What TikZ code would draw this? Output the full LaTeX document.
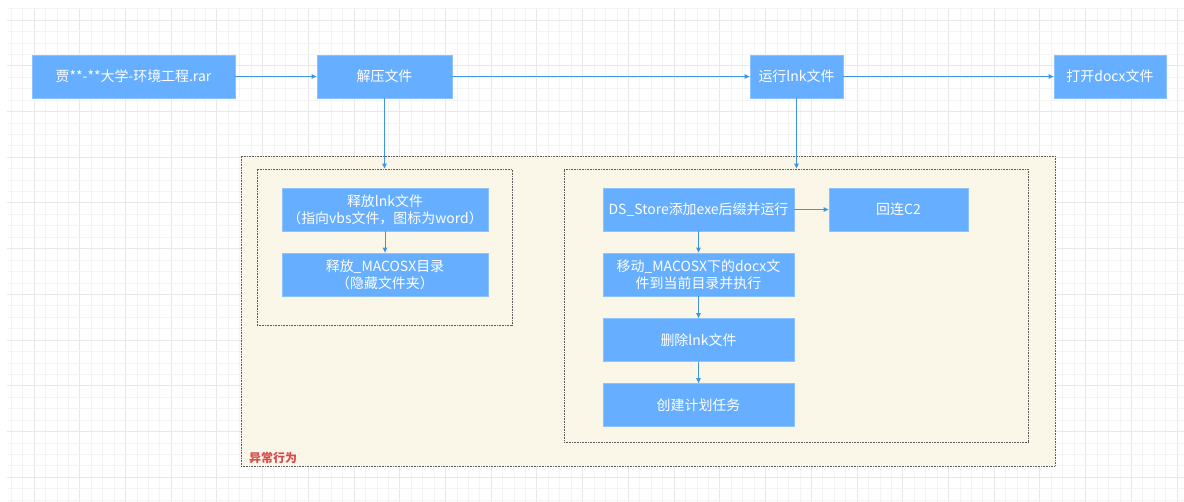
\documentclass[tikz,border=0pt]{standalone}
\usepackage{fontspec}
\setmainfont{Noto Sans CJK SC}
\usetikzlibrary{arrows.meta}
\definecolor{boxblue}{RGB}{102,174,255}
\definecolor{boxedge}{RGB}{140,195,255}
\definecolor{arrowblue}{RGB}{62,148,230}
\definecolor{cream}{RGB}{250,246,232}
\definecolor{dotgray}{RGB}{90,90,90}
\definecolor{labelred}{RGB}{215,75,75}
\definecolor{gridminorc}{RGB}{244,244,244}
\definecolor{gridmajorc}{RGB}{232,232,232}
\tikzset{
  stepbox/.style={draw=boxedge, line width=0.8bp, fill=boxblue, text=white, inner sep=0pt,
    minimum height=43bp, align=center, font=\fontsize{14}{17}\selectfont},
  container/.style={draw=dotgray, line width=0.9bp, dash pattern=on 0.8bp off 0.8bp, inner sep=0pt},
  flow/.style={draw=arrowblue, line width=1bp, -{Triangle[length=5bp,width=4.5bp]}},
  gridminor/.style={draw=gridminorc, line width=0.6bp},
  gridmajor/.style={draw=gridmajorc, line width=0.9bp},
}
\begin{document}
\begin{tikzpicture}[x=1bp,y=-1bp]
\useasboundingbox (0,0) rectangle (1184,502);
\fill[white] (0,0) rectangle (1184,502);
% grid
\foreach \i in {-2,...,100}{
  \pgfmathsetmacro\xx{34+11.43*\i}
  \pgfmathtruncatemacro\mm{mod(\i+100,4)}
  \ifnum\mm=0 \draw[gridmajor] (\xx,8) -- (\xx,502); \else \draw[gridminor] (\xx,8) -- (\xx,502); \fi
}
\foreach \j in {-1,...,42}{
  \pgfmathsetmacro\yy{20+11.43*\j}
  \pgfmathtruncatemacro\mm{mod(\j+100,4)}
  \ifnum\mm=0 \draw[gridmajor] (7,\yy) -- (1184,\yy); \else \draw[gridminor] (7,\yy) -- (1184,\yy); \fi
}
% containers
\node[container, fill=cream, minimum width=814bp, minimum height=310bp] (outer) at (648,311) {};
\node[container, minimum width=255bp, minimum height=156bp] (leftin) at (384.5,247) {};
\node[container, minimum width=464bp, minimum height=273bp] (rightin) at (796,305.5) {};
\node[text=labelred, font=\fontsize{12}{12}\selectfont\bfseries, anchor=west, inner sep=0pt] (lbl) at (249,458) {异常行为};
% top row
\node[stepbox, minimum width=203bp] (rar) at (133.5,76.5) {贾**-**大学-环境工程.rar};
\node[stepbox, minimum width=135bp] (unzip) at (384.5,76.5) {解压文件};
\node[stepbox, minimum width=93bp] (run) at (796.5,76.5) {运行lnk文件};
\node[stepbox, minimum width=112bp] (open) at (1110,76.5) {打开docx文件};
% left column
\node[stepbox, minimum width=206bp] (rel1) at (385,209.5) {释放lnk文件\\（指向vbs文件，图标为word）};
\node[stepbox, minimum width=206bp] (rel2) at (385,274.5) {释放\_MACOSX目录\\（隐藏文件夹）};
% right column
\node[stepbox, minimum width=191bp] (ds) at (698.5,209.5) {DS\_Store添加exe后缀并运行};
\node[stepbox, minimum width=139bp] (c2) at (898.5,209.5) {回连C2};
\node[stepbox, minimum width=191bp] (mv) at (698.5,274.5) {移动\_MACOSX下的docx文\\件到当前目录并执行};
\node[stepbox, minimum width=191bp] (del) at (698.5,340) {删除lnk文件};
\node[stepbox, minimum width=191bp] (task) at (698.5,405) {创建计划任务};
% connectors
\draw[flow] (rar) -- (unzip);
\draw[flow] (unzip) -- (run);
\draw[flow] (run) -- (open);
\draw[flow] (unzip.south) -- (unzip.south |- leftin.north);
\draw[flow] (run.south) -- (run.south |- rightin.north);
\draw[flow] (rel1) -- (rel2);
\draw[flow] (ds) -- (c2);
\draw[flow] (ds) -- (mv);
\draw[flow] (mv) -- (del);
\draw[flow] (del) -- (task);
\end{tikzpicture}
\end{document}
